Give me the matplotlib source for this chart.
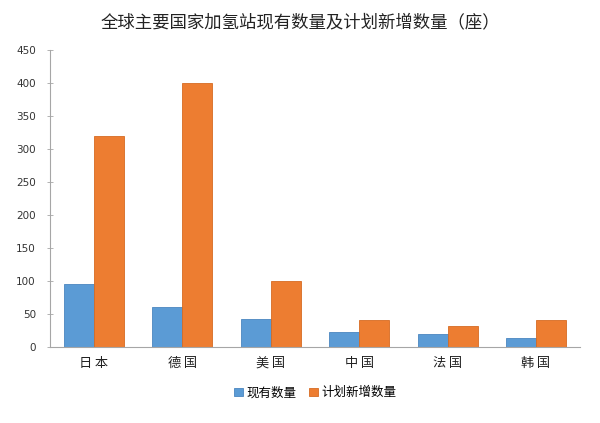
import matplotlib
matplotlib.use("Agg")
import matplotlib.pyplot as plt
import numpy as np

plt.rcParams["font.family"] = ["Noto Sans CJK SC", "DejaVu Sans"]

categories = ["日本", "德国", "美国", "中国", "法国", "韩国"]
existing = [95, 60, 42, 23, 19, 14]
planned = [320, 400, 100, 40, 31, 40]
yticks = [0, 50, 100, 150, 200, 250, 300, 350, 400, 450]

BLUE, ORANGE, GRIS = "#5B9BD5", "#ED7D31", "#A6A6A6"

fig = plt.figure(figsize=(6.0, 4.23), dpi=100)
ax = fig.add_axes([0.083, 0.18, 0.884, 0.702])

x = np.arange(len(categories))
w = 0.34
ax.bar(x - w / 2, existing, width=w, color=BLUE, edgecolor="#4A86C0", linewidth=0.6, label="现有数量")
ax.bar(x + w / 2, planned, width=w, color=ORANGE, edgecolor="#D66B22", linewidth=0.6, label="计划新增数量")

ax.set_xlim(-0.5, len(categories) - 0.5)
ax.set_ylim(0, 450)
ax.set_yticks(yticks)
ax.set_yticklabels([str(v) for v in yticks], fontsize=7.5, color="#333333", family="DejaVu Sans")
ax.set_xticks(x)
ax.set_xticklabels(["\u2009".join(c) for c in categories], fontsize=9.5, color="#222222")
ax.tick_params(axis="x", length=0, pad=7)
ax.tick_params(axis="y", direction="inout", length=4, width=0.6, color=GRIS, pad=8)

for s in ["top", "right"]:
    ax.spines[s].set_visible(False)
ax.spines["left"].set_color(GRIS)
ax.spines["bottom"].set_color(GRIS)
ax.spines["left"].set_linewidth(0.8)
ax.spines["bottom"].set_linewidth(0.8)

fig.text(0.5, 0.947, "全球主要国家加氢站现有数量及计划新增数量（座）", ha="center", va="center",
         fontsize=12.5, color="#222222")

ax.legend(loc="upper center", bbox_to_anchor=(0.5, -0.095), ncol=2, frameon=False,
          fontsize=9, handlelength=0.7, handleheight=0.7, handletextpad=0.3, columnspacing=1.0)

fig.savefig("out.png", dpi=100)
